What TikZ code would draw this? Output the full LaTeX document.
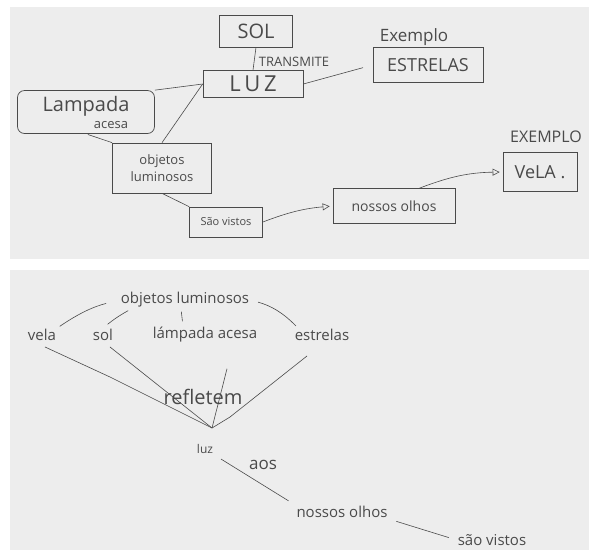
\documentclass[tikz,border=0pt]{standalone}
\usepackage{fontspec}
\setmainfont{Open Sans}
\usetikzlibrary{arrows.meta}
\definecolor{papel}{HTML}{EDEDED}
\definecolor{tinta}{HTML}{4A4A4A}

\begin{document}
\begin{tikzpicture}[x=1pt,y=-1pt,
    caixa/.style={draw=tinta, line width=0.7pt, inner sep=2pt, text=tinta},
    texto/.style={text=tinta, inner sep=1pt},
    liga/.style={draw=tinta, line width=0.6pt},
    seta/.style={liga, -{Triangle[open,length=7pt,width=7pt]}}]
\useasboundingbox (0,0) rectangle (594,550);
\fill[papel] (10,7) rectangle (589,259);
\fill[papel] (10,270) rectangle (589,550);

% mapa de cima
\node[caixa, minimum width=73pt, minimum height=32pt, font=\fontsize{20}{21}\selectfont] (sol) at (256,31) {SOL};
\node[caixa, minimum width=100pt, minimum height=27pt, font=\fontsize{22}{22}\selectfont] (luz) at (253,84) {L\,U\,Z};
\node[caixa, minimum width=110pt, minimum height=35pt, font=\fontsize{18}{18}\selectfont] (estrelas) at (428,65) {ESTRELAS};
\node[caixa, rounded corners=7pt, minimum width=137pt, minimum height=43pt, inner sep=1pt, align=center, font=\fontsize{20}{17}\selectfont] (lampada) at (86,112) {Lampada\\\hspace*{2.5em}{\fontsize{13}{17}\selectfont acesa}};
\node[caixa, minimum width=99pt, minimum height=50pt, align=center, font=\fontsize{13}{17}\selectfont] (objetos) at (162,168) {objetos\\luminosos};
\node[caixa, minimum width=73pt, minimum height=30pt, font=\fontsize{11}{12}\selectfont] (vistos) at (226,222) {São vistos};
\node[caixa, minimum width=122pt, minimum height=35pt, font=\fontsize{14}{15}\selectfont] (olhos) at (394,206) {nossos olhos};
\node[caixa, minimum width=74pt, minimum height=39pt, font=\fontsize{18}{19}\selectfont] (vela) at (540,172) {VeLA .};

\node[texto, font=\fontsize{13}{14}\selectfont] (transmite) at (294,62) {TRANSMITE};
\node[texto, font=\fontsize{17}{18}\selectfont] (exemplo) at (414,37) {Exemplo};
\node[texto, font=\fontsize{16}{17}\selectfont] (exemplob) at (546,137) {EXEMPLO};

\draw[liga] (sol.south) -- (luz.north);
\draw[liga, shorten >=10pt] (luz.east) -- (estrelas.west);
\draw[liga] (lampada.north east) -- (luz.west);
\draw[liga] (objetos.north) -- (luz.west);
\draw[liga, shorten <=2pt] (lampada.south) -- (objetos.north west);
\draw[liga] (objetos.south) -- (vistos.north west);
\draw[seta, shorten >=3pt] (vistos.east) to[bend left=8] (olhos.west);
\draw[seta, shorten >=3pt] (olhos.35) to[bend left=10] (vela.west);

% mapa de baixo
\node[texto, font=\fontsize{15}{16}\selectfont] (bobjetos) at (185,300) {objetos luminosos};
\node[texto, font=\fontsize{15}{16}\selectfont] (bvela) at (42,335) {vela};
\node[texto, font=\fontsize{15}{16}\selectfont] (bsol) at (103,335) {sol};
\node[texto, font=\fontsize{15}{16}\selectfont] (blampada) at (205,335) {lámpada acesa};
\node[texto, font=\fontsize{15}{16}\selectfont] (bestrelas) at (322,335) {estrelas};
\coordinate (meet) at (212,428);
\node[texto, font=\fontsize{20}{21}\selectfont] (refletem) at (203,397) {refletem};
\node[texto, font=\fontsize{12}{13}\selectfont] (bluz) at (205,449) {luz};
\node[texto, font=\fontsize{17}{18}\selectfont] (aos) at (263,465) {aos};
\node[texto, font=\fontsize{15}{16}\selectfont] (bolhos) at (342,512) {nossos olhos};
\node[texto, font=\fontsize{15}{16}\selectfont] (bvistos) at (492,540) {são vistos};

\draw[liga, shorten <=3pt, shorten >=14pt] (bvela.north east) to[bend left=10] (bobjetos.west);
\draw[liga, shorten <=6pt, shorten >=4pt] (bsol.north) to[bend left=5] ([xshift=12pt]bobjetos.south west);
\draw[liga, shorten <=3pt, shorten >=5pt] ([xshift=-4pt]bobjetos.south) -- ([xshift=-22pt]blampada.north);
\draw[liga, shorten <=8pt, shorten >=3pt] (bobjetos.east) to[bend left=15] ([xshift=-24pt]bestrelas.north);
\draw[liga] ([shift={(3,5)}]bvela.south) -- (110,377) -- (meet);
\draw[liga] ([shift={(7,5)}]bsol.south) -- (meet);
\draw[liga] ([shift={(22,25)}]blampada.south) -- (meet);
\draw[liga] ([shift={(-15,14)}]bestrelas.south) -- (230,417) -- (meet);
\draw[liga, shorten <=8pt, shorten >=8pt] (bluz.south east) -- (bolhos.north west);
\draw[liga, shorten <=8pt, shorten >=8pt] (bolhos.south east) -- (bvistos.west);
\end{tikzpicture}
\end{document}
